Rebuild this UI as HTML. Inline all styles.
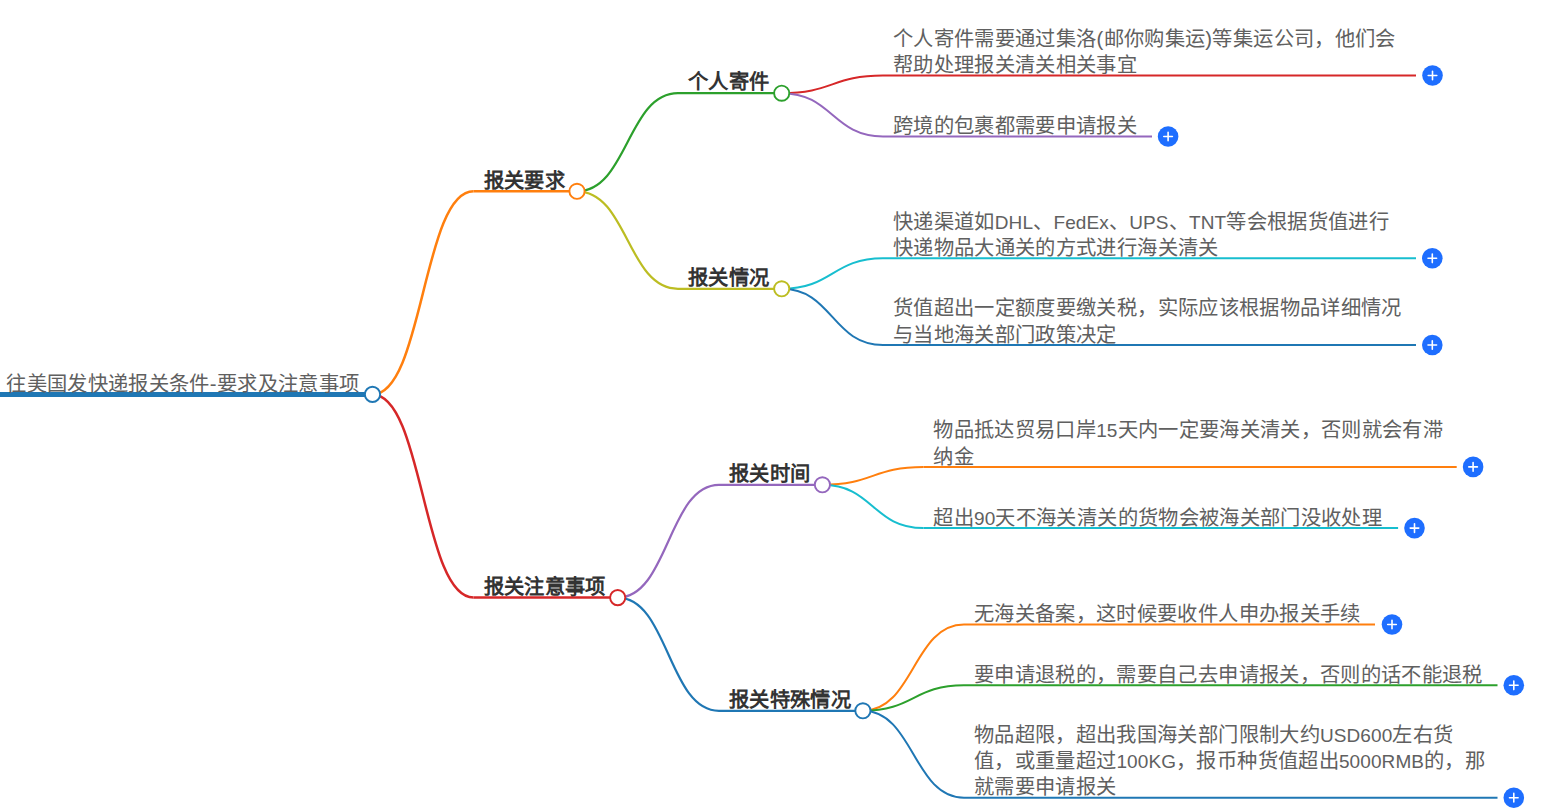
<!DOCTYPE html>
<html lang="zh-CN"><head><meta charset="utf-8"><style>
html,body{margin:0;padding:0;background:#fff;width:1553px;height:812px;overflow:hidden}
body{position:relative;font-family:"Liberation Sans",sans-serif}
svg{position:absolute;left:0;top:0}
.t,.b{position:absolute;white-space:nowrap;font-size:20.3px;line-height:26.4px;color:#606060;letter-spacing:0.35px}
.b{font-weight:bold;color:#333}
.l{font-size:19px;line-height:10px;letter-spacing:0.1px}
</style></head><body>
<svg width="1553" height="812" viewBox="0 0 1553 812">
<path d="M0,394.4H372.5" stroke="#1f77b4" stroke-width="5" fill="none"/>
<path d="M372.5,394.4C423.0,394.4 423.0,191.3 473.5,191.3" stroke="#ff7f0e" stroke-width="2.5" fill="none"/>
<path d="M473.5,191.3H577" stroke="#ff7f0e" stroke-width="2.5" fill="none"/>
<path d="M372.5,394.4C423.0,394.4 423.0,597.6 473.5,597.6" stroke="#d62728" stroke-width="2.5" fill="none"/>
<path d="M473.5,597.6H617.7" stroke="#d62728" stroke-width="2.5" fill="none"/>
<path d="M577,191.3C627.5,191.3 627.5,93.2 678,93.2" stroke="#2ca02c" stroke-width="2.2" fill="none"/>
<path d="M678,93.2H781.7" stroke="#2ca02c" stroke-width="2.2" fill="none"/>
<path d="M577,191.3C627.5,191.3 627.5,288.8 678,288.8" stroke="#bcbd22" stroke-width="2.2" fill="none"/>
<path d="M678,288.8H781.7" stroke="#bcbd22" stroke-width="2.2" fill="none"/>
<path d="M617.7,597.6C668.35,597.6 668.35,484.8 719,484.8" stroke="#9467bd" stroke-width="2.2" fill="none"/>
<path d="M719,484.8H822.4" stroke="#9467bd" stroke-width="2.2" fill="none"/>
<path d="M617.7,597.6C668.35,597.6 668.35,710.8 719,710.8" stroke="#1f77b4" stroke-width="2.2" fill="none"/>
<path d="M719,710.8H862.9" stroke="#1f77b4" stroke-width="2.2" fill="none"/>
<path d="M781.7,93.2C832.35,93.2 832.35,75.5 883,75.5" stroke="#d62728" stroke-width="2" fill="none"/>
<path d="M883,75.5H1416" stroke="#d62728" stroke-width="2" fill="none"/>
<circle cx="1432.5" cy="75.5" r="10.3" fill="#1e6eff"/><path d="M1428.20,75.5H1436.80M1432.5,71.20V79.80" stroke="#fff" stroke-width="1.6" stroke-linecap="round"/>
<path d="M781.7,93.2C832.35,93.2 832.35,136.5 883,136.5" stroke="#9467bd" stroke-width="2" fill="none"/>
<path d="M883,136.5H1152" stroke="#9467bd" stroke-width="2" fill="none"/>
<circle cx="1168.1" cy="136.5" r="10.3" fill="#1e6eff"/><path d="M1163.80,136.5H1172.40M1168.1,132.20V140.80" stroke="#fff" stroke-width="1.6" stroke-linecap="round"/>
<path d="M781.7,288.8C832.35,288.8 832.35,258.3 883,258.3" stroke="#17becf" stroke-width="2" fill="none"/>
<path d="M883,258.3H1416" stroke="#17becf" stroke-width="2" fill="none"/>
<circle cx="1432.3" cy="258.3" r="10.3" fill="#1e6eff"/><path d="M1428.00,258.3H1436.60M1432.3,254.00V262.60" stroke="#fff" stroke-width="1.6" stroke-linecap="round"/>
<path d="M781.7,288.8C832.35,288.8 832.35,345 883,345" stroke="#1f77b4" stroke-width="2" fill="none"/>
<path d="M883,345H1416" stroke="#1f77b4" stroke-width="2" fill="none"/>
<circle cx="1432.3" cy="345" r="10.3" fill="#1e6eff"/><path d="M1428.00,345H1436.60M1432.3,340.70V349.30" stroke="#fff" stroke-width="1.6" stroke-linecap="round"/>
<path d="M822.4,484.8C872.9,484.8 872.9,466.9 923.4,466.9" stroke="#ff7f0e" stroke-width="2" fill="none"/>
<path d="M923.4,466.9H1456.7" stroke="#ff7f0e" stroke-width="2" fill="none"/>
<circle cx="1473.1" cy="466.9" r="10.3" fill="#1e6eff"/><path d="M1468.80,466.9H1477.40M1473.1,462.60V471.20" stroke="#fff" stroke-width="1.6" stroke-linecap="round"/>
<path d="M822.4,484.8C872.9,484.8 872.9,528.1 923.4,528.1" stroke="#17becf" stroke-width="2" fill="none"/>
<path d="M923.4,528.1H1398.1" stroke="#17becf" stroke-width="2" fill="none"/>
<circle cx="1414.5" cy="528.1" r="10.3" fill="#1e6eff"/><path d="M1410.20,528.1H1418.80M1414.5,523.80V532.40" stroke="#fff" stroke-width="1.6" stroke-linecap="round"/>
<path d="M862.9,710.8C913.45,710.8 913.45,624.5 964,624.5" stroke="#ff7f0e" stroke-width="2" fill="none"/>
<path d="M964,624.5H1375" stroke="#ff7f0e" stroke-width="2" fill="none"/>
<circle cx="1392" cy="624.5" r="10.3" fill="#1e6eff"/><path d="M1387.70,624.5H1396.30M1392,620.20V628.80" stroke="#fff" stroke-width="1.6" stroke-linecap="round"/>
<path d="M862.9,710.8C913.45,710.8 913.45,685.3 964,685.3" stroke="#2ca02c" stroke-width="2" fill="none"/>
<path d="M964,685.3H1497.5" stroke="#2ca02c" stroke-width="2" fill="none"/>
<circle cx="1513.8" cy="685.3" r="10.3" fill="#1e6eff"/><path d="M1509.50,685.3H1518.10M1513.8,681.00V689.60" stroke="#fff" stroke-width="1.6" stroke-linecap="round"/>
<path d="M862.9,710.8C913.45,710.8 913.45,797.7 964,797.7" stroke="#1f77b4" stroke-width="2" fill="none"/>
<path d="M964,797.7H1497.5" stroke="#1f77b4" stroke-width="2" fill="none"/>
<circle cx="1513.8" cy="797.7" r="10.3" fill="#1e6eff"/><path d="M1509.50,797.7H1518.10M1513.8,793.40V802.00" stroke="#fff" stroke-width="1.6" stroke-linecap="round"/>
<circle cx="372.5" cy="394.4" r="7.6" fill="#fff" stroke="#1f77b4" stroke-width="1.9"/>
<circle cx="577" cy="191.3" r="7.6" fill="#fff" stroke="#ff7f0e" stroke-width="1.9"/>
<circle cx="617.7" cy="597.6" r="7.6" fill="#fff" stroke="#d62728" stroke-width="1.9"/>
<circle cx="781.7" cy="93.2" r="7.6" fill="#fff" stroke="#2ca02c" stroke-width="1.9"/>
<circle cx="781.7" cy="288.8" r="7.6" fill="#fff" stroke="#bcbd22" stroke-width="1.9"/>
<circle cx="822.4" cy="484.8" r="7.6" fill="#fff" stroke="#9467bd" stroke-width="1.9"/>
<circle cx="862.9" cy="710.8" r="7.6" fill="#fff" stroke="#1f77b4" stroke-width="1.9"/>
</svg>
<div class="t" style="left:6.3px;top:370.50px">往美国发快递报关条件-要求及注意事项</div>
<div class="b" style="left:483.5px;top:167.50px">报关要求</div>
<div class="b" style="left:483.5px;top:573.80px">报关注意事项</div>
<div class="b" style="left:688px;top:69.40px">个人寄件</div>
<div class="b" style="left:688px;top:265.00px">报关情况</div>
<div class="b" style="left:729px;top:461.00px">报关时间</div>
<div class="b" style="left:729px;top:687.00px">报关特殊情况</div>
<div class="t" style="left:893px;top:25.70px">个人寄件需要通过集洛(邮你购集运)等集运公司，他们会<br>帮助处理报关清关相关事宜</div>
<div class="t" style="left:893px;top:113.10px">跨境的包裹都需要申请报关</div>
<div class="t" style="left:893px;top:208.50px">快递渠道如<span class="l">DHL</span>、<span class="l">FedEx</span>、<span class="l">UPS</span>、<span class="l">TNT</span>等会根据货值进行<br>快递物品大通关的方式进行海关清关</div>
<div class="t" style="left:893px;top:295.20px">货值超出一定额度要缴关税，实际应该根据物品详细情况<br>与当地海关部门政策决定</div>
<div class="t" style="left:933.4px;top:417.10px">物品抵达贸易口岸<span class="l">15</span>天内一定要海关清关，否则就会有滞<br>纳金</div>
<div class="t" style="left:933.4px;top:504.70px">超出<span class="l">90</span>天不海关清关的货物会被海关部门没收处理</div>
<div class="t" style="left:974px;top:601.10px">无海关备案，这时候要收件人申办报关手续</div>
<div class="t" style="left:974px;top:661.90px">要申请退税的，需要自己去申请报关，否则的话不能退税</div>
<div class="t" style="left:974px;top:721.50px">物品超限，超出我国海关部门限制大约<span class="l">USD600</span>左右货<br>值，或重量超过<span class="l">100KG</span>，报币种货值超出<span class="l">5000RMB</span>的，那<br>就需要申请报关</div>
</body></html>
